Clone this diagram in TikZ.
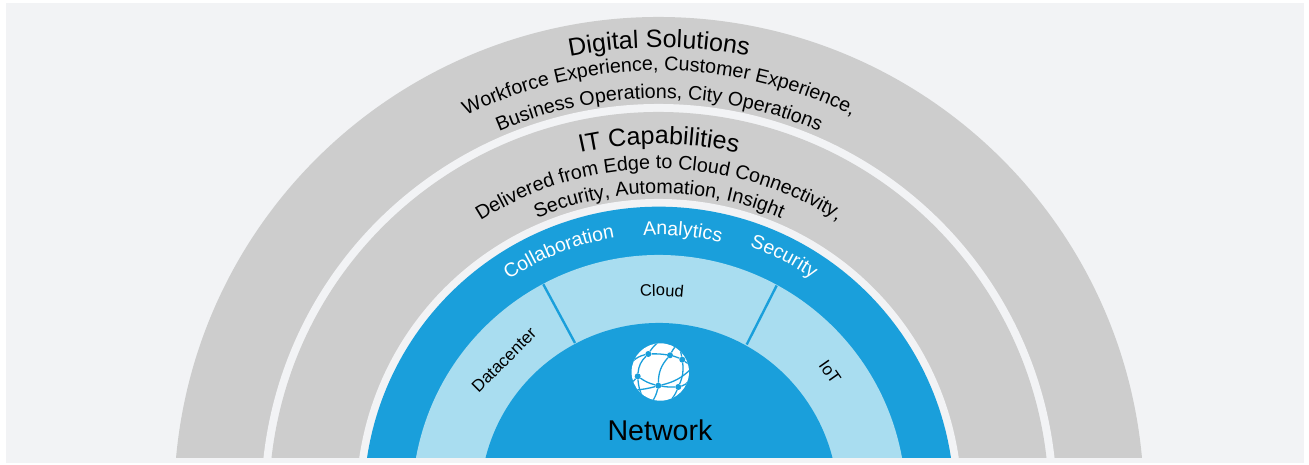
\documentclass[tikz,border=0pt]{standalone}
\usepackage{fontspec}
\setmainfont{Liberation Sans}
\usetikzlibrary{decorations.text}
\definecolor{pagebg}{HTML}{F2F3F5}
\definecolor{bandgray}{HTML}{CDCDCD}
\definecolor{ciscoblue}{HTML}{1A9FDB}
\definecolor{lightblue}{HTML}{A9DDF0}
\tikzset{
  x=1pt,y=1pt,
  divider/.style={draw=ciscoblue,line width=2.4pt},
  globeline/.style={draw=ciscoblue,line width=1.3pt},
  globedot/.style={circle,fill=ciscoblue,inner sep=0pt,minimum size=6pt},
}
\newcommand{\ringfill}[2]{%
  \pgfmathsetmacro{\halfang}{asin(44/#2)}%
  \fill[#1] ({659-#2*cos(\halfang)},7) arc[start angle={180-\halfang},end angle={\halfang},radius=#2] -- cycle;%
}
% #1 radius, #2 centre angle (0 = top, positive = left), #3 half span, #4 colour, #5 size, #6 text
\newcommand{\arctext}[6]{%
  \path[decorate,decoration={text along path,text align=center,
    text={|\fontsize{#5}{#5}\selectfont\color{#4}|#6}}]
    ({659+#1*cos(90+#2+#3)},{-37+#1*sin(90+#2+#3)}) arc[start angle={90+#2+#3},end angle={90+#2-#3},radius=#1];%
}
\begin{document}
\begin{tikzpicture}
\useasboundingbox (0,0) rectangle (1309,465);
\fill[white] (0,0) rectangle (1309,465);
\fill[pagebg] (6,2) rectangle (1304,462);
\ringfill{bandgray}{485}
\ringfill{pagebg}{398}
\ringfill{bandgray}{390}
\ringfill{pagebg}{303}
\ringfill{ciscoblue}{295.3}
\ringfill{lightblue}{247}
\ringfill{ciscoblue}{179}
\coordinate (d1a) at (543.3,180.7);
\coordinate (d1b) at (575,122);
\coordinate (d2a) at (776.7,179.5);
\coordinate (d2b) at (746.7,120.5);
\draw[divider] (d1a) -- (d1b);
\draw[divider] (d2a) -- (d2b);
\arctext{454.5}{0}{40}{black}{25}{Digital Solutions}
\arctext{431.5}{0}{40}{black}{19.7}{Workforce Experience, Customer Experience,}
\arctext{403.5}{0}{40}{black}{19.7}{Business Operations, City Operations}
\arctext{358}{0}{40}{black}{25}{IT Capabilities}
\arctext{333}{0}{45}{black}{19.7}{Delivered from Edge to Cloud Connectivity,}
\arctext{308.5}{0}{45}{black}{19.7}{Security, Automation, Insight}
\arctext{268}{21.8}{20}{white}{19.5}{Collaboration}
\arctext{267}{-5}{15}{white}{19.5}{Analytics}
\arctext{271}{-27}{15}{white}{19.5}{Security}
\arctext{206}{-0.8}{12}{black}{16.5}{Cloud}
\node[rotate=45,font=\fontsize{17}{17}\selectfont] (dc) at (504,105) {Datacenter};
\node[rotate=-55,font=\fontsize{17}{17}\selectfont] (iot) at (830,93) {IoT};
\node[font=\fontsize{28.6}{28.6}\selectfont] (net) at (660,35) {Network};
% globe
\fill[white] (660.3,93) circle[radius=28.7];
\begin{scope}
\clip (660.3,93) circle[radius=28.7];
\node[globedot] (g1) at (648.3,111) {};
\node[globedot] (g2) at (670,109.7) {};
\node[globedot] (g3) at (682.3,105.3) {};
\node[globedot] (g4) at (637.7,88.7) {};
\node[globedot] (g5) at (658.3,79.3) {};
\node[globedot] (g6) at (678.3,78) {};
\coordinate (e1) at (632,103);
\coordinate (e2) at (660,124);
\coordinate (e3) at (679,122);
\coordinate (e4) at (691,96);
\coordinate (e5) at (689,84);
\coordinate (e6) at (631,81);
\coordinate (e7) at (643,67);
\coordinate (e8) at (652,63);
\coordinate (e9) at (669,63);
\coordinate (e10) at (636,75);
\coordinate (e11) at (690,100);
\draw[globeline] (e1) to[bend left=15] (g1);
\draw[globeline] (g1) to[bend left=10] (e2);
\draw[globeline] (g1) to[bend left=5] (g2);
\draw[globeline] (g2) to[bend left=8] (g3);
\draw[globeline] (g3) -- (e11);
\draw[globeline] (e3) to[bend right=10] (g2);
\draw[globeline] (g2) to[bend right=20] (g5);
\draw[globeline] (g5) to[bend left=10] (e8);
\draw[globeline] (e3) -- (g3);
\draw[globeline] (g3) to[bend left=15] (g6);
\draw[globeline] (g6) to[bend left=10] (e9);
\draw[globeline] (g1) to[bend right=20] (g4);
\draw[globeline] (g4) to[bend right=10] (e7);
\draw[globeline] (e6) -- (g4);
\draw[globeline] (g4) to[bend right=10] (g5);
\draw[globeline] (g5) to[bend right=5] (g6);
\draw[globeline] (g6) to[bend right=15] (e5);
\draw[globeline] (g5) to[bend right=15] (e4);
\draw[globeline] (g5) to[bend left=5] (e10);
\end{scope}
\end{tikzpicture}
\end{document}
